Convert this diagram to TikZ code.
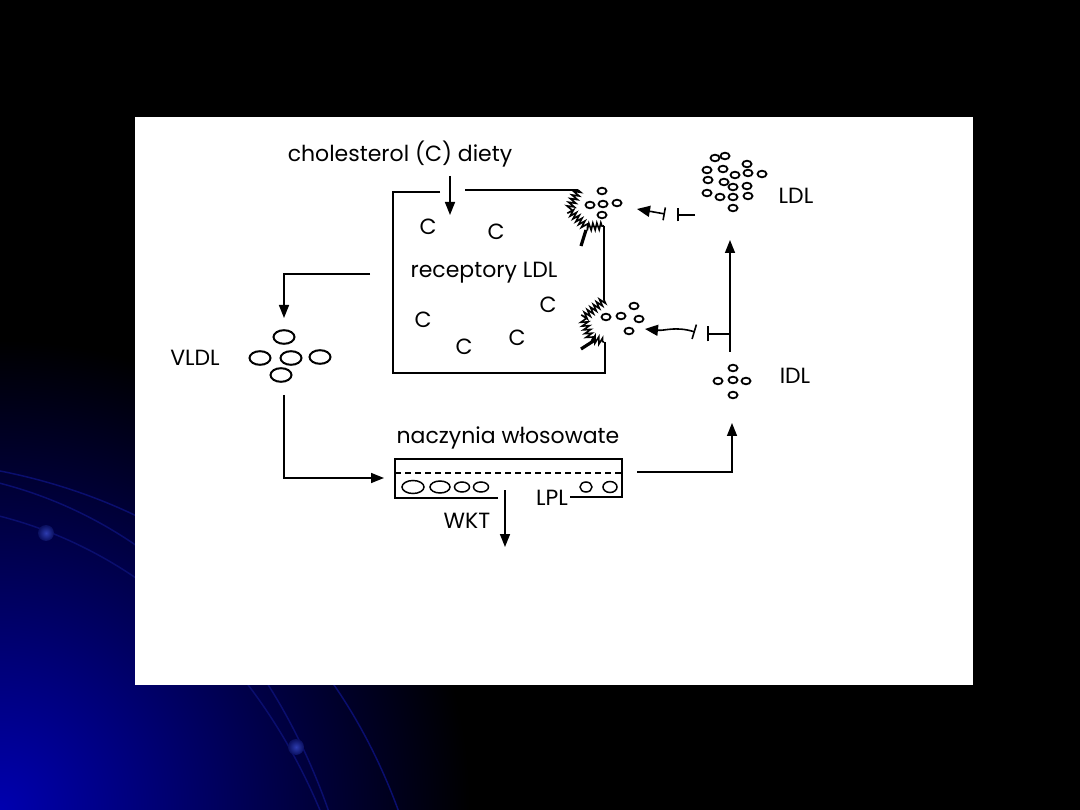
\documentclass[tikz,border=0pt]{standalone}
\usepackage{fontspec}
\setmainfont{Poppins}
\usetikzlibrary{arrows.meta,decorations.pathmorphing}

\definecolor{slideblue}{RGB}{0,0,175}
\definecolor{arcblue}{RGB}{10,14,110}
\definecolor{ballhi}{RGB}{45,60,175}
\definecolor{balllo}{RGB}{10,15,95}

\begin{document}
\begin{tikzpicture}[x=1pt,y=-1pt,
  lbl/.style={font=\fontsize{22}{26}\selectfont, inner sep=0pt, anchor=base},
  wall/.style={line width=1.6pt},
  arr/.style={line width=1.5pt, -{Triangle[length=13pt,width=10pt]}},
  lip/.style={line width=1.8pt},
  jag/.style={wall, decorate, decoration={zigzag, segment length=4pt, amplitude=3.5pt}},
  ]
  \useasboundingbox (0,0) rectangle (1080,810);
  % Slide background
  \fill[black] (0,0) rectangle (1080,810);
  \begin{scope}
    \clip (0,0) rectangle (1080,810);
    \shade[inner color=slideblue, outer color=black] (0,810) circle (470pt);
    \draw[arcblue, line width=1.5pt] (-5,470) .. controls (180,505) and (330,620) .. (400,815);
    \draw[arcblue, line width=1.5pt] (-5,482) .. controls (150,520) and (270,640) .. (330,815);
    \draw[arcblue, line width=1.5pt] (-5,515) .. controls (120,545) and (250,640) .. (322,815);
    \shade[inner color=ballhi, outer color=balllo] (46,533) circle (8pt);
    \shade[inner color=ballhi, outer color=balllo] (296,747) circle (8pt);
  \end{scope}
  % White panel
  \fill[white] (135,117) rectangle (973,685);

  % Labels
  \node[lbl] (chol) at (400,162) {cholesterol (C) diety};
  \node[lbl] (recep) at (484,278) {receptory LDL};
  \node[lbl] (vldl) at (195,366) {VLDL};
  \node[lbl] (ldl) at (796,204) {LDL};
  \node[lbl] (idl) at (795,384) {IDL};
  \node[lbl] (capil) at (508,443) {naczynia włosowate};
  \node[lbl] (wkt) at (467,528) {WKT};
  \node[lbl] (lpl) at (552,505) {LPL};
  \foreach \n/\x/\y in {c1/428/235, c2/496/240, c3/548/313,
                        c4/423/328, c5/517/346, c6/464/355}
    \node[lbl] (\n) at (\x,\y) {C};

  % Cell wall
  \draw[wall] (440,192) -- (393,192) -- (393,373) -- (605,373) -- (605,342);
  \draw[wall] (465,190) -- (578,190);
  \draw[wall] (604,226) -- (604,300);
  % Receptors
  \draw[jag] (578,190) -- (569,210) -- (586,227) -- (604,226);
  \draw[line width=3.2pt] (586,230) -- (581,246);
  \draw[jag] (604,300) -- (583,318) -- (590,338) -- (604,342);
  \draw[line width=3.2pt] (595,340) -- (581,349);

  % Lipoprotein particles
  \foreach \x/\y in {602/191, 590/205, 603/204, 617/203, 602/215,  % upper receptor
                     634/306, 606/317, 621/316, 639/319, 629/331,  % lower receptor
                     733/368, 718/381, 733/380, 746/381, 733/395}  % IDL
    \draw[lip] (\x,\y) ellipse [x radius=4.5pt, y radius=3.3pt];
  \foreach \x/\y in {715/158, 725/156, 707/170, 723/169, 747/164,
                     735/175, 748/173, 762/174, 708/180, 724/182,
                     733/187, 747/186, 707/193, 720/197, 733/197,
                     748/196, 733/208}  % LDL
    \draw[lip] (\x,\y) ellipse [x radius=4.5pt, y radius=3.3pt];
  \foreach \x/\y in {284/337, 260/358, 291/358, 320/357, 281/375}  % VLDL
    \draw[line width=2pt] (\x,\y) ellipse [x radius=10.5pt, y radius=6.8pt];

  % Capillary
  \draw[wall] (498,498) -- (395,498) -- (395,459) -- (622,459) -- (622,497) -- (570,497);
  \draw[wall, dashed, dash pattern=on 6pt off 4pt] (395,473) -- (622,473);
  \foreach \x/\rx/\ry in {413/11/6.5, 440/10/6, 462/7.5/5, 481/7.5/5, 586/6/5, 610/7/5.5}
    \draw[line width=1.5pt] (\x,487) ellipse [x radius=\rx pt, y radius=\ry pt];

  % Connector ends
  \coordinate (cf1) at (450,176);
  \coordinate (cin) at (450,215);
  \coordinate (vout) at (370,274);
  \coordinate (vin) at (284,318);
  \coordinate (vdown) at (284,395);
  \coordinate (capin) at (384,478);
  \coordinate (capout) at (637,472);
  \coordinate (idlin) at (732,423);
  \coordinate (idlup) at (730,352);
  \coordinate (ldlin) at (730,240);
  \coordinate (ldlout) at (695,215);
  \coordinate (brk1) at (677,215);
  \coordinate (brk2) at (665,214);
  \coordinate (rec1) at (637,209);
  \coordinate (idlside) at (730,334);
  \coordinate (brk3) at (707,334);
  \coordinate (brk4) at (695,332);
  \coordinate (rec2) at (645,329);
  \coordinate (wktfrom) at (505,490);
  \coordinate (wktto) at (505,547);

  % Flow
  \draw[arr] (cf1) -- (cin);
  \draw[arr] (vout) -| (vin);
  \draw[arr] (vdown) |- (capin);
  \draw[arr] (capout) -| (idlin);
  \draw[arr] (idlup) -- (ldlin);
  \draw[wall, -{Bar[width=13pt]}] (ldlout) -- (brk1);
  \draw[wall, {Bar[width=13pt]}-{Triangle[length=13pt,width=11pt]}] (brk2) -- (rec1);
  \draw[wall, -{Bar[width=15pt]}] (idlside) -- (brk3);
  \draw[wall, {Bar[width=15pt]}-{Triangle[length=13pt,width=11pt]}] (brk4) .. controls (675,326) and (665,331) .. (rec2);
  \draw[arr] (wktfrom) -- (wktto);
\end{tikzpicture}
\end{document}
